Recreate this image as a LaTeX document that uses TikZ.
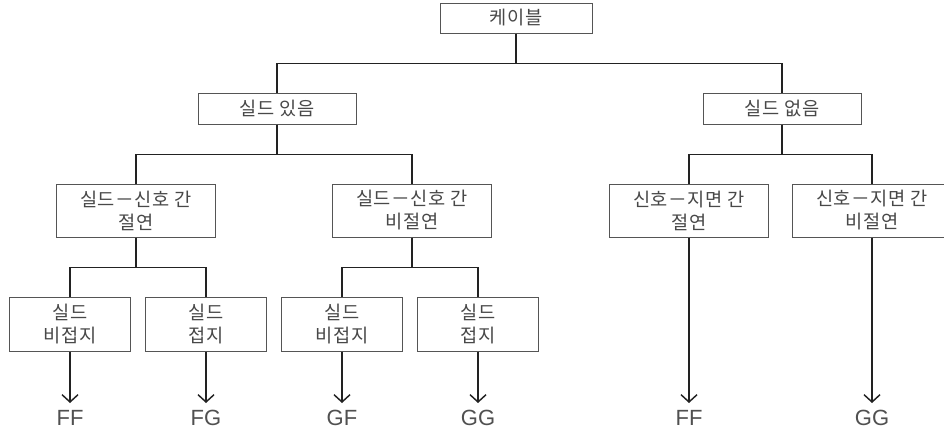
\documentclass[tikz,border=0pt]{standalone}
\usepackage{fontspec}
\newfontfamily\kfont[LetterSpace=3]{Noto Sans CJK KR}
\newfontfamily\lfont{Liberation Sans}
\usetikzlibrary{arrows.meta}

\begin{document}
\begin{tikzpicture}[x=0.75pt,y=0.75pt,yscale=-1,xscale=1,
  box/.style={draw={rgb, 255:red, 85; green, 85; blue, 85}, line width=0.75, fill=white, align=center, inner sep=0pt, text={rgb, 255:red, 72; green, 72; blue, 72}, font=\kfont\fontsize{14}{17.25}\selectfont},
  top/.style={box, minimum width=114pt, minimum height=22.5pt},
  mid/.style={box, minimum width=118.5pt, minimum height=23.25pt},
  pair/.style={box, minimum width=119.25pt, minimum height=39.75pt},
  leaf/.style={box, minimum width=90.75pt, minimum height=40.5pt},
  wire/.style={draw={rgb, 255:red, 34; green, 34; blue, 34}, line width=1.1},
  tip/.style={-{Straight Barb[length=5.5pt,width=12pt]}},
  lbl/.style={anchor=north, inner sep=5pt, text={rgb, 255:red, 80; green, 80; blue, 80}, font=\lfont\fontsize{16.5}{20}\selectfont}]
%uncomment if require: \path (0,432); %set diagram left start at 0, and has height of 432
\path [use as bounding box] (0,0) rectangle (944,432);

%Shape: Rectangle
\node [top] (cable) at (516,18) {케이블};
\node [mid] (shY) at (277,108.5) {실드 있음};
\node [mid] (shN) at (782,108.5) {실드 없음};
%Shape: Rectangle
\node [pair] (insA) at (136,210.5) {실드－신호 간\\절연};
\node [pair] (nonA) at (412,210.5) {실드－신호 간\\비절연};
\node [pair] (insB) at (689,210.5) {신호－지면 간\\절연};
\node [pair] (nonB) at (872,210.5) {신호－지면 간\\비절연};
%Shape: Rectangle
\node [leaf] (ngA) at (70,324) {실드\\비접지};
\node [leaf] (gA) at (206,324) {실드\\접지};
\node [leaf] (ngB) at (342,324) {실드\\비접지};
\node [leaf] (gB) at (478,324) {실드\\접지};

% Text Node
\node [lbl] (ffA) at (70,403) {FF};
\node [lbl] (fgA) at (206,403) {FG};
\node [lbl] (gfB) at (342,403) {GF};
\node [lbl] (ggB) at (478,403) {GG};
\node [lbl] (ffC) at (689,403) {FF};
\node [lbl] (ggC) at (872,403) {GG};

%Straight Lines
\draw [wire] (cable.south) -- ++(0,30) -| (shY.north);
\draw [wire] (cable.south) -- ++(0,30) -| (shN.north);
\draw [wire] (shY.south) -- ++(0,30) -| (insA.north);
\draw [wire] (shY.south) -- ++(0,30) -| (nonA.north);
\draw [wire] (shN.south) -- ++(0,30) -| (insB.north);
\draw [wire] (shN.south) -- ++(0,30) -| (nonB.north);
\draw [wire] (insA.south) -- ++(0,30) -| (ngA.north);
\draw [wire] (insA.south) -- ++(0,30) -| (gA.north);
\draw [wire] (nonA.south) -- ++(0,30) -| (ngB.north);
\draw [wire] (nonA.south) -- ++(0,30) -| (gB.north);

%Straight Lines
\draw [wire, tip] (ngA) -- (ffA);
\draw [wire, tip] (gA) -- (fgA);
\draw [wire, tip] (ngB) -- (gfB);
\draw [wire, tip] (gB) -- (ggB);
\draw [wire, tip] (insB) -- (ffC);
\draw [wire, tip] (nonB) -- (ggC);

\end{tikzpicture}
\end{document}
